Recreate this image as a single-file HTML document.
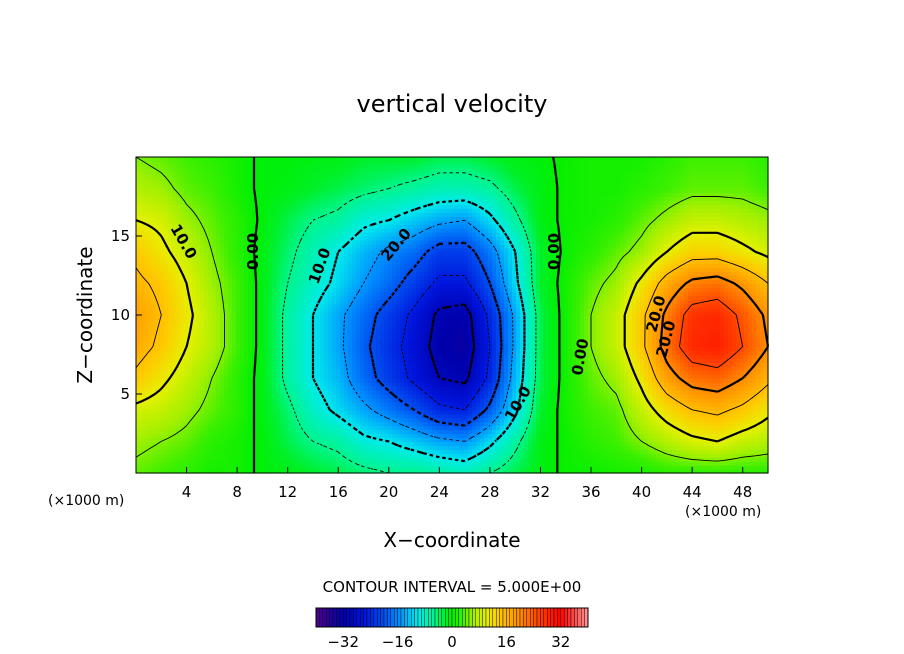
<!DOCTYPE html>
<html><head><meta charset="utf-8"><style>
body{margin:0;background:#fff;}
svg{display:block;font-family:"DejaVu Sans","Liberation Sans",sans-serif;}
</style></head><body>
<svg id="chart" width="904" height="654" viewBox="0 0 904 654">
<text x="452" y="112" text-anchor="middle" font-size="24">vertical velocity</text>
<g id="field"></g>
<g id="contours"></g>
<g id="labels" font-size="15" font-weight="bold">
<text transform="translate(170,228) rotate(60)">10.0</text>
<text transform="translate(258,270) rotate(-90)">0.00</text>
<text transform="translate(318,285) rotate(-70)">10.0</text>
<text transform="translate(388,262) rotate(-50)">20.0</text>
<text transform="translate(513,422) rotate(-60)">10.0</text>
<text transform="translate(559,270) rotate(-90)">0.00</text>
<text transform="translate(582,376) rotate(-80)">0.00</text>
<text transform="translate(656,333) rotate(-75)">20.0</text>
<text transform="translate(666,358) rotate(-75)">20.0</text>
</g>
<rect x="136" y="157" width="632" height="316" fill="none" stroke="#000" stroke-width="1"/>
<g id="xaxis" font-size="15"></g>
<g id="yaxis" font-size="15"></g>
<text x="48" y="505" font-size="14">(×1000 m)</text>
<text x="685" y="516" font-size="14">(×1000 m)</text>
<text x="452" y="547" text-anchor="middle" font-size="20">X−coordinate</text>
<text transform="translate(92,315) rotate(-90)" text-anchor="middle" font-size="20">Z−coordinate</text>
<text x="452" y="592" text-anchor="middle" font-size="15">CONTOUR INTERVAL = 5.000E+00</text>
<g id="cbar" font-size="15"></g>
</svg>
<script>
// grid: rows z = 0,2,...,20 ; cols x = 0,2,...,50
const xCoords = [0,2,4,6,8,10,12,14,16,18,20,22,24,26,28,30,32,34,36,38,40,42,44,46,48,50];
const zCoords = [0,2,4,6,8,10,12,14,16,18,20];
const row0  = [4,3,2,1,1, -0.5,-1,-2,-3,-4,-5,-5,-6,-7,-5,-3,-1, 0.5,0.5,1,1,2,2,2,2,2];
const row2  = [6,5,4,2,1, -0.5,-3,-5,-6,-9,-10,-12,-14,-15,-11,-6,-1, 0.5,2,3,5,7,9,10,8,7];
const row4  = [9,8,6,4,2, -1,-4,-8,-11,-14,-17,-20,-24,-25,-19,-11,-2, 1,3,4,8,12,15,16,14,11];
const row6  = [14,11,8,5,2, -1,-6,-10,-13,-18,-22,-26,-30,-31,-24,-13,-3, 1,4,6,11,18,22,23,20,16];
const row8  = [17,14,10,7,3, -1,-6,-10,-14,-19,-23,-27,-32,-33,-25,-14,-3, 1,5,8,14,22,28,29,25,20];
const row10 = [18,15,11,7,3, -1,-6,-10,-14,-18,-22,-26,-31,-32,-24,-14,-3, 1,5,8,14,21,27,28,24,19];
const row12 = [16,14,10,6,3, -1,-5,-8,-11,-15,-18,-22,-26,-26,-20,-11,-2, 1,4,6,11,17,21,22,19,15];
const row14 = [14,11,8,5,2, -1,-4,-7,-10,-13,-16,-18,-22,-22,-17,-10,-2, 0.5,2,4,6,10,13,13,11,9];
const row16 = [10,9,6,4,2, -0.5,-3,-5,-6,-9,-10,-12,-14,-15,-11,-6,-1, 0.5,1,2,4,6,8,8,7,6];
const row18 = [7,6,4,3,1, -0.5,-1,-2,-3,-4,-5,-6,-7,-7,-6,-3,-1, 0.5,1,1,2,3,4,4,4,3];
const row20 = [5,4,3,2,1, -0.5,-0.5,-1,-1,-2,-2,-2,-3,-3,-2,-1,-0.5, 0.5,1,1,1,2,3,3,3,2];
const xTicks = [4,8,12,16,20,24,28,32,36,40,44,48];
const zTicks = [5,10,15];
const cbarTicks = [-32,-16,0,16,32];
const levels = [-30,-25,-20,-15,-10,-5,0,5,10,15,20,25];

const grid=[row0,row2,row4,row6,row8,row10,row12,row14,row16,row18,row20];
const NS='http://www.w3.org/2000/svg';
const X0=136,X1=768,Y0=473,Y1=157;
const sx=x=>X0+(x-0)/50*(X1-X0);
const sz=z=>Y0-(z-0)/20*(Y0-Y1);
const stops=[[-40,[80,0,140]],[-32,[0,0,170]],[-26,[0,20,220]],[-20,[0,80,240]],[-15,[0,150,255]],[-10,[0,235,235]],[-5,[0,245,140]],[-2,[0,240,40]],[0,[0,240,0]],[3,[60,240,0]],[6,[160,240,0]],[10,[230,240,0]],[14,[255,200,0]],[20,[255,140,0]],[26,[255,60,0]],[32,[255,0,0]],[40,[255,150,150]]];
function col(v){v=Math.max(-40,Math.min(40,v));for(let i=1;i<stops.length;i++){if(v<=stops[i][0]){const a=stops[i-1],b=stops[i],t=(v-a[0])/(b[0]-a[0]);const c=a[1].map((q,k)=>Math.round(q+(b[1][k]-q)*t));return`rgb(${c})`;}}return'rgb(255,150,150)';}
function val(x,z){const fx=x/2,fz=z/2;let i=Math.min(24,Math.floor(fx)),j=Math.min(9,Math.floor(fz));const tx=fx-i,tz=fz-j;
const a=grid[j][i]*(1-tx)+grid[j][i+1]*tx,b=grid[j+1][i]*(1-tx)+grid[j+1][i+1]*tx;
return a*(1-tz)+b*tz;}
const field=document.getElementById('field');
const NX=158,NZ=80,dx=50/NX,dz=20/NZ;
for(let a=0;a<NX;a++)for(let b=0;b<NZ;b++){
 const v=val((a+.5)*dx,(b+.5)*dz);
 const r=document.createElementNS(NS,'rect');
 
 
 const xa=sx(a*dx),xb=sx((a+1)*dx),za=sz((b+1)*dz),zb=sz(b*dz);
 r.setAttribute('x',xa);r.setAttribute('y',za);r.setAttribute('width',xb-xa+0.6);r.setAttribute('height',zb-za+0.6);
 r.setAttribute('fill',col(v));field.appendChild(r);}
// marching squares
const cg=document.getElementById('contours');
const MX=100,MZ=80,mdx=50/MX,mdz=20/MZ;
const V=[];for(let a=0;a<=MX;a++){V[a]=[];for(let b=0;b<=MZ;b++)V[a][b]=val(a*mdx,b*mdz);}
levels.forEach(L=>{
 let d='';
 for(let a=0;a<MX;a++)for(let b=0;b<MZ;b++){
  const c=[[a,b],[a+1,b],[a+1,b+1],[a,b+1]];const pts=[];
  for(let k=0;k<4;k++){const p=c[k],q=c[(k+1)%4];const va=V[p[0]][p[1]]-L,vb=V[q[0]][q[1]]-L;
   if((va<0)!==(vb<0)){const t=va/(va-vb);pts.push([sx((p[0]+(q[0]-p[0])*t)*mdx),sz((p[1]+(q[1]-p[1])*t)*mdz)]);}}
  for(let k=0;k+1<pts.length;k+=2)d+=`M${pts[k][0].toFixed(1)},${pts[k][1].toFixed(1)}L${pts[k+1][0].toFixed(1)},${pts[k+1][1].toFixed(1)}`;
 }
 const p=document.createElementNS(NS,'path');
 
 
 p.setAttribute('d',d);p.setAttribute('fill','none');p.setAttribute('stroke','#000');
 p.setAttribute('stroke-width',(L%10===0)?2.2:0.9);
 if(L<0)p.setAttribute('stroke-dasharray',(L%10===0)?'3.5,3':'2.5,3');
 cg.appendChild(p);});
// axes
const xa=document.getElementById('xaxis');
xTicks.forEach(t=>{const l=document.createElementNS(NS,'line');
 
 
 l.setAttribute('x1',sx(t));l.setAttribute('x2',sx(t));l.setAttribute('y1',Y0);l.setAttribute('y2',Y0-6);l.setAttribute('stroke','#000');xa.appendChild(l);
 const tx=document.createElementNS(NS,'text');
 
 
 tx.setAttribute('x',sx(t));tx.setAttribute('y',497);tx.setAttribute('text-anchor','middle');tx.textContent=t;xa.appendChild(tx);});
const ya=document.getElementById('yaxis');
zTicks.forEach(t=>{const l=document.createElementNS(NS,'line');
 
 
 l.setAttribute('x1',X0);l.setAttribute('x2',X0+6);l.setAttribute('y1',sz(t));l.setAttribute('y2',sz(t));l.setAttribute('stroke','#000');ya.appendChild(l);
 const tx=document.createElementNS(NS,'text');
 
 
 tx.setAttribute('x',X0-6);tx.setAttribute('y',sz(t)+5);tx.setAttribute('text-anchor','end');tx.textContent=t;ya.appendChild(tx);});
// colorbar
const cb=document.getElementById('cbar');const C0=316,C1=588,cv=v=>C0+(v+40)/80*(C1-C0);
for(let v=-40;v<40;v++){const r=document.createElementNS(NS,'rect');
 
 
 r.setAttribute('x',cv(v));r.setAttribute('y',608);r.setAttribute('width',cv(v+1)-cv(v));r.setAttribute('height',19);
 r.setAttribute('fill',col(v+0.5));r.setAttribute('stroke','#000');r.setAttribute('stroke-width','0.4');cb.appendChild(r);}
const fr=document.createElementNS(NS,'rect');


fr.setAttribute('x',C0);fr.setAttribute('y',608);fr.setAttribute('width',C1-C0);fr.setAttribute('height',19);fr.setAttribute('fill','none');fr.setAttribute('stroke','#000');cb.appendChild(fr);
cbarTicks.forEach(t=>{const tx=document.createElementNS(NS,'text');
 
 
 tx.setAttribute('x',cv(t));tx.setAttribute('y',647);tx.setAttribute('text-anchor','middle');tx.textContent=(t<0?'−'+(-t):t);cb.appendChild(tx);});
</script>
</body></html>
